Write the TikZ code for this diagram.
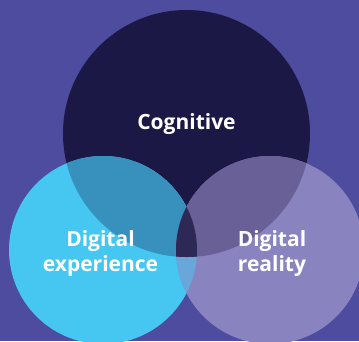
\documentclass[tikz,border=0pt]{standalone}
\usepackage{fontspec}
\setmainfont{Open Sans}
\usepackage{xcolor}
\usepackage{tikz}

\definecolor{backpurple}{HTML}{4E4C9E}
\definecolor{cogblue}{HTML}{1C1845}
\definecolor{expcyan}{HTML}{45C7F1}
\definecolor{reallav}{HTML}{8984BF}
\definecolor{cogexp}{HTML}{3891BD}
\definecolor{cogreal}{HTML}{686096}
\definecolor{expreal}{HTML}{69A7DA}
\definecolor{allthree}{HTML}{2E2856}

\tikzset{
  vennlabel/.style={text=white, font=\fontsize{21}{25}\selectfont\bfseries, align=center},
}

\begin{document}
\begin{tikzpicture}[x=1pt, y=-1pt]
		\fill[backpurple] (0, 0) rectangle (359, 341);
		\useasboundingbox (0, 0) rectangle (359, 341);

		\coordinate (cog) at (186.5, 133.5);
		\coordinate (exp) at (103, 250);
		\coordinate (real) at (270, 250);

		\fill[cogblue] (cog) circle[radius=123.5pt];
		\fill[expcyan] (exp) circle[radius=94pt];
		\fill[reallav] (real) circle[radius=94pt];

		\begin{scope}
			\clip (exp) circle[radius=94pt];
			\fill[expreal] (real) circle[radius=94pt];
		\end{scope}
		\begin{scope}
			\clip (cog) circle[radius=123.5pt];
			\fill[cogexp] (exp) circle[radius=94pt];
			\fill[cogreal] (real) circle[radius=94pt];
			\clip (exp) circle[radius=94pt];
			\fill[allthree] (real) circle[radius=94pt];
		\end{scope}

		\node[vennlabel] (coglabel) at (186.5, 124) {Cognitive};
		\node[vennlabel] (explabel) at (100.5, 253.5) {Digital\\experience};
		\node[vennlabel] (reallabel) at (272, 253.5) {Digital\\reality};
	\end{tikzpicture}
\end{document}
